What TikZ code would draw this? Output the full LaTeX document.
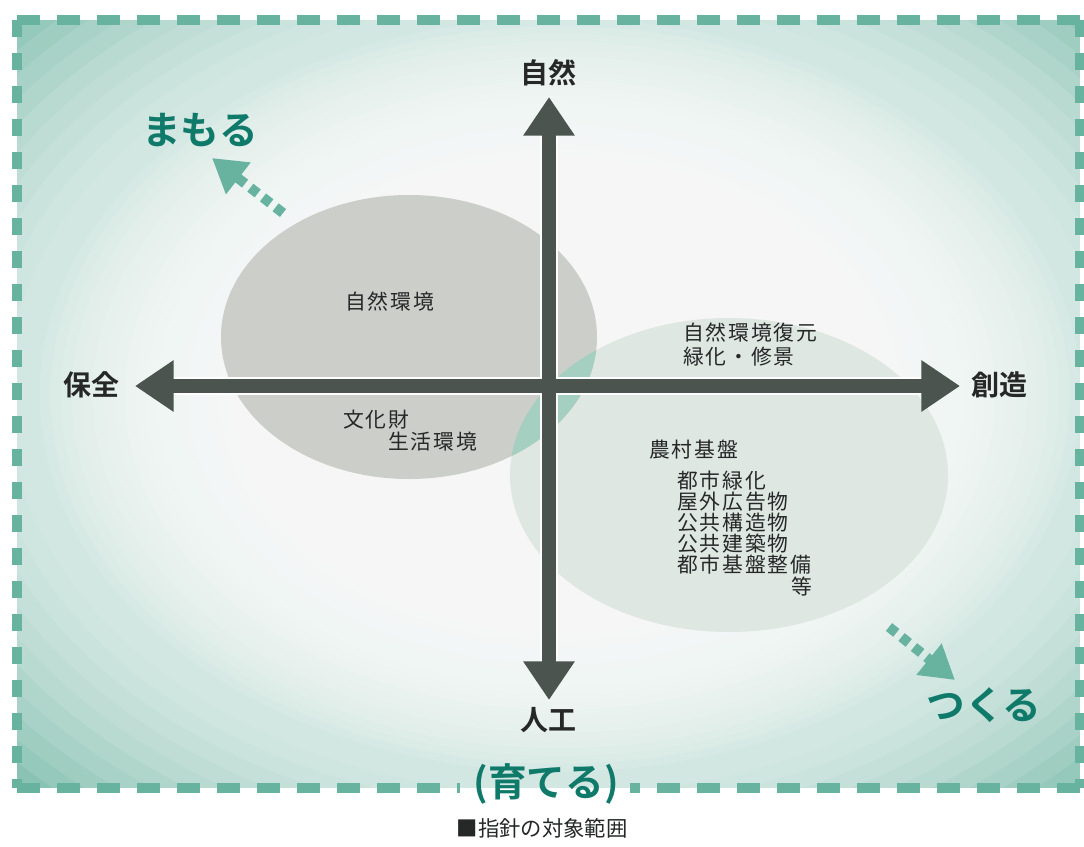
\documentclass[tikz,border=0pt]{standalone}
\usepackage{fontspec}
\setmainfont{Noto Sans CJK JP}[BoldFont={Noto Sans CJK JP Bold}]
\newfontfamily\bodyfont{Noto Sans CJK JP}[LetterSpace=9]
\usetikzlibrary{arrows.meta}
\definecolor{tealbg}{RGB}{138,195,180}
\definecolor{dashcol}{RGB}{104,178,160}
\definecolor{tealtxt}{RGB}{16,122,106}
\definecolor{axiscol}{RGB}{76,84,80}
\definecolor{lellipse}{RGB}{203,206,201}
\definecolor{rellipse}{RGB}{222,231,226}
\definecolor{overlapcol}{RGB}{165,207,193}
\definecolor{txtcol}{RGB}{38,40,40}
\tikzset{
  body/.style={font=\bodyfont\fontsize{15.6}{16}\selectfont, text=txtcol, inner sep=0pt, anchor=west},
  axislabel/.style={font=\fontsize{21}{21}\selectfont\bfseries, text=txtcol, inner sep=0pt},
  bigteal/.style={font=\fontsize{29}{29}\selectfont\bfseries, text=tealtxt, inner sep=0pt},
  axisline/.style={draw=axiscol, line width=10.5pt, {Triangle[width=36.75pt,length=29pt]}-{Triangle[width=36.75pt,length=29pt]}},
  halo/.style={draw=white, line width=13pt, shorten >=29pt, shorten <=29pt},
  dotarrow/.style={draw=dashcol, line width=7.5pt, dash pattern=on 7pt off 5pt, -{Triangle[width=28.5pt,length=25pt]}},
  hborder/.style={draw=dashcol, line width=7.5pt, dash pattern=on 17.25pt off 12.75pt},
  vborder/.style={draw=dashcol, line width=7.5pt, dash pattern=on 12.75pt off 12pt},
  glow/.style={fill=white, opacity=0.1},
}
\begin{document}
\begin{tikzpicture}[x=0.75pt, y=-0.75pt]
\useasboundingbox (0,0) rectangle (1084,846);
\fill[white] (0,0) rectangle (1084,846);
% background gradient
\begin{scope}
  \clip (17,20) rectangle (1080,788);
  \fill[tealbg] (17,20) rectangle (1080,788);
  \foreach \s in {0.40,0.42,...,1.0}{
    \path[glow] (560,395) ellipse [x radius=\s*398pt, y radius=\s*288pt];
  }
  \foreach \s in {1.04,1.08,...,1.41}{
    \path[glow] (560,395) ellipse [x radius=\s*398pt, y radius=\s*288pt];
  }
\end{scope}
% ellipses
\fill[rellipse] (729,475) ellipse [x radius=164.25pt, y radius=117.75pt];
\fill[lellipse] (409,337) ellipse [x radius=141pt, y radius=106.5pt];
\begin{scope}
  \clip (409,337) ellipse [x radius=141pt, y radius=106.5pt];
  \fill[overlapcol] (729,475) ellipse [x radius=164.25pt, y radius=117.75pt];
\end{scope}
% border
\draw[hborder] (17,20) -- (1080,20);
\draw[vborder] (17,20) -- (17,788);
\draw[vborder] (1080,20) -- (1080,788);
\draw[hborder] (17,788) -- (460,788);
\draw[hborder] (1080,788) -- (630,788);
% axes
\coordinate (top) at (549,97);
\coordinate (bottom) at (549,700);
\coordinate (left) at (135,386);
\coordinate (right) at (960,386);
\draw[halo] (left) -- (right);
\draw[halo] (top) -- (bottom);
\draw[axisline] (left) -- (right);
\draw[axisline] (top) -- (bottom);
% axis labels
\node[axislabel] (nat) at (548,73) {自然};
\node[axislabel] (hozen) at (91,385) {保全};
\node[axislabel] (sozo) at (999,385) {創造};
\node[axislabel] (jinko) at (548,720) {人工};
% teal labels and arrows
\node[bigteal] (mamoru) at (200,130) {まもる};
\node[bigteal] (tsukuru) at (984,705) {つくる};
\node[bigteal] (sodateru) at (546,784) {(育てる)};
\coordinate (m0) at (283,213);
\coordinate (m1) at (212,158);
\coordinate (k0) at (889,627);
\coordinate (k1) at (955,680);
\draw[dotarrow] (m0) -- (m1);
\draw[dotarrow] (k0) -- (k1);
% texts
\node[body] (t1) at (345,302) {自然環境};
\node[body] (t2) at (343,420) {文化財};
\node[body] (t3) at (388,442) {生活環境};
\node[body] (t4) at (683,333) {自然環境復元};
\node[body] (t5) at (683,357) {緑化・修景};
\node[body] (t6) at (649,450) {農村基盤};
\node[body] (t7) at (677,481) {都市緑化};
\node[body] (t8) at (677,502) {屋外広告物};
\node[body] (t9) at (677,523) {公共構造物};
\node[body] (t10) at (677,544) {公共建築物};
\node[body] (t11) at (677,565) {都市基盤整備};
\node[body, anchor=east] (t12) at (813,587) {等};
% caption
\node[font=\fontsize{16}{16}\selectfont, text=txtcol, inner sep=0pt] (cap) at (542,828) {■指針の対象範囲};
\end{tikzpicture}
\end{document}
